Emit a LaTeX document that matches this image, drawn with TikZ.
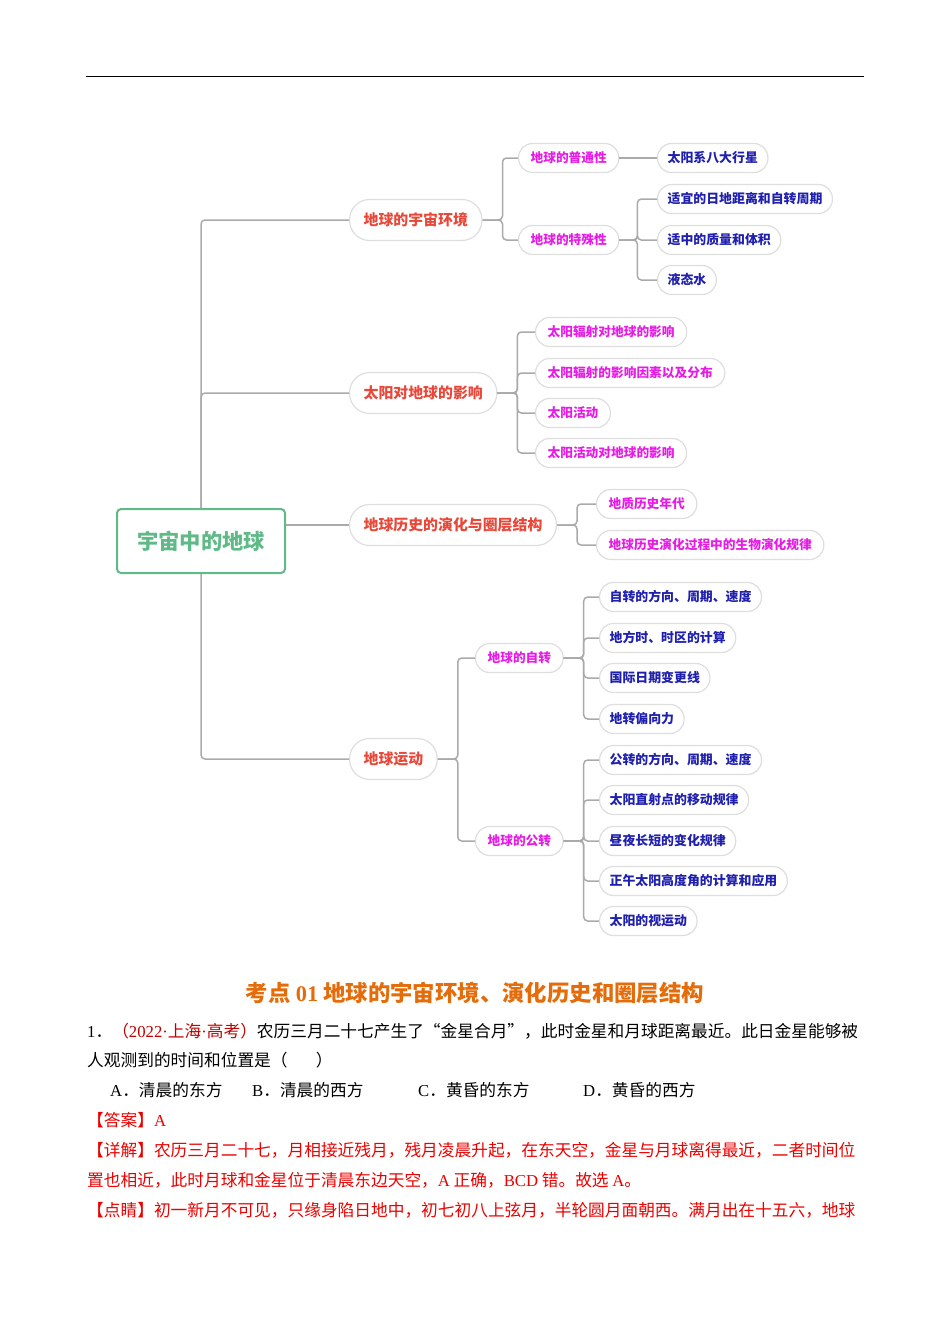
\documentclass[tikz,border=0pt]{standalone}
\usepackage{fontspec}
\setmainfont{Liberation Serif}
\newfontfamily\cjk{Noto Sans CJK SC}
\usepackage{xcolor}
\usetikzlibrary{positioning}

\definecolor{rootgreen}{RGB}{96,186,136}
\definecolor{topicred}{RGB}{232,72,58}
\definecolor{subpink}{RGB}{230,28,230}
\definecolor{leafblue}{RGB}{32,32,175}
\definecolor{linegray}{RGB}{170,170,170}
\definecolor{pillgray}{RGB}{222,222,222}
\definecolor{titleorange}{RGB}{228,108,10}
\definecolor{srcred}{RGB}{192,0,0}
\definecolor{ansred}{RGB}{235,0,0}

\begin{document}
\begin{tikzpicture}[
    x=1pt, y=-1pt,
    conn/.style={linegray, line width=1.5pt, rounded corners=4pt},
    pill/.style={draw=pillgray, line width=1.2pt, fill=white, anchor=west, inner ysep=0pt},
    root/.style={draw=rootgreen, line width=2pt, rounded corners=4pt, text=rootgreen,
                 font=\cjk\bfseries\fontsize{21.3}{22}\selectfont,
                 minimum width=168pt, minimum height=64pt, text height=18.1pt, text depth=2.1pt},
    topic/.style={pill, text=topicred, inner xsep=14pt, minimum height=41pt, rounded corners=20pt,
                  font=\cjk\bfseries\fontsize{14.9}{15}\selectfont, text height=12.7pt, text depth=1.5pt},
    sub/.style={pill, text=subpink, inner xsep=12pt, minimum height=29pt, rounded corners=14pt,
                font=\cjk\bfseries\fontsize{12.7}{13}\selectfont, text height=10.8pt, text depth=1.3pt},
    leaf/.style={pill, text=leafblue, inner xsep=10pt, minimum height=29pt, rounded corners=14pt,
                 font=\cjk\bfseries\fontsize{12.9}{13}\selectfont, text height=11pt, text depth=1.3pt},
    txt/.style={anchor=west, inner sep=0pt, text height=14.2pt, text depth=1.7pt,
                font=\cjk\fontsize{16.7}{17}\selectfont},
  ]
  \useasboundingbox (0,0) rectangle (950,1344);

  % header rule
  \draw[line width=1pt] (86,76) -- (864,76);

  % root
  \node[root] (root) at (201,541) {宇宙中的地球};

  % 地球的宇宙环境
  \node[topic] (env) at (349,220) {地球的宇宙环境};
  \node[sub] (common) at (518,158) {地球的普通性};
  \node[sub] (special) at (518,240) {地球的特殊性};
  \node[leaf] (planets) at (657,158) {太阳系八大行星};
  \node[leaf] (distance) at (657,199) {适宜的日地距离和自转周期};
  \node[leaf] (mass) at (657,240) {适中的质量和体积};
  \node[leaf] (water) at (657,280) {液态水};

  % 太阳对地球的影响
  \node[topic] (sun) at (349,393) {太阳对地球的影响};
  \node[sub] (radeff) at (535,332) {太阳辐射对地球的影响};
  \node[sub] (radfac) at (535,373) {太阳辐射的影响因素以及分布};
  \node[sub] (activity) at (535,413) {太阳活动};
  \node[sub] (acteff) at (535,453) {太阳活动对地球的影响};

  % 地球历史的演化与圈层结构
  \node[topic] (history) at (349,525) {地球历史的演化与圈层结构};
  \node[sub] (geotime) at (596,504) {地质历史年代};
  \node[sub] (bioevo) at (596,545) {地球历史演化过程中的生物演化规律};

  % 地球运动
  \node[topic] (motion) at (349,759) {地球运动};
  \node[sub] (rotation) at (475,658) {地球的自转};
  \node[sub] (revolution) at (475,841) {地球的公转};
  \node[leaf] (rotdir) at (599,597) {自转的方向、周期、速度};
  \node[leaf] (localtime) at (599,638) {地方时、时区的计算};
  \node[leaf] (dateline) at (599,678) {国际日期变更线};
  \node[leaf] (coriolis) at (599,719) {地转偏向力};
  \node[leaf] (revdir) at (599,760) {公转的方向、周期、速度};
  \node[leaf] (subsolar) at (599,800) {太阳直射点的移动规律};
  \node[leaf] (daynight) at (599,841) {昼夜长短的变化规律};
  \node[leaf] (noonalt) at (599,881) {正午太阳高度角的计算和应用};
  \node[leaf] (sunpath) at (599,921) {太阳的视运动};

  % connectors
  \foreach \t in {env,sun}
    \draw[conn] (root.north) |- (\t.west);
  \draw[conn] (root.south) |- (motion.west);
  \draw[conn] (root.east |- history.west) -- (history.west);
  \foreach \c in {common,special}
    \draw[conn] (env.east) -- ++(20,0) |- (\c.west);
  \draw[conn] (common.east) -- (planets.west);
  \foreach \c in {distance,mass,water}
    \draw[conn] (special.east) -- ++(18,0) |- (\c.west);
  \foreach \c in {radeff,radfac,activity,acteff}
    \draw[conn] (sun.east) -- ++(20,0) |- (\c.west);
  \foreach \c in {geotime,bioevo}
    \draw[conn] (history.east) -- ++(20,0) |- (\c.west);
  \foreach \c in {rotation,revolution}
    \draw[conn] (motion.east) -- ++(20,0) |- (\c.west);
  \foreach \c in {rotdir,localtime,dateline,coriolis}
    \draw[conn] (rotation.east) -- ++(20,0) |- (\c.west);
  \foreach \c in {revdir,subsolar,daynight,noonalt,sunpath}
    \draw[conn] (revolution.east) -- ++(20,0) |- (\c.west);

  % exercise text
  \node[txt, anchor=center, text=titleorange, font=\cjk\bfseries\fontsize{22.4}{23}\selectfont,
        text height=19pt, text depth=2.2pt] (title) at (475,993)
        {考点 {\rmfamily 01} 地球的宇宙环境、演化历史和圈层结构};
  \node[txt] (q1a) at (87,1031) {{\rmfamily 1}．\textcolor{srcred}{（{\rmfamily 2022·}上海{\rmfamily ·}高考）}农历三月二十七产生了“金星合月”，此时金星和月球距离最近。此日金星能够被};
  \node[txt] (q1b) at (87,1060) {人观测到的时间和位置是（\hspace{1.7em}）};
  \node[txt] (optA) at (110,1090) {{\rmfamily A}．清晨的东方};
  \node[txt] (optB) at (252,1090) {{\rmfamily B}．清晨的西方};
  \node[txt] (optC) at (418,1090) {{\rmfamily C}．黄昏的东方};
  \node[txt] (optD) at (583,1090) {{\rmfamily D}．黄昏的西方};
  \node[txt, text=ansred] (ans) at (87,1120) {【答案】{\rmfamily A}};
  \node[txt, text=ansred] (det1) at (87,1150) {【详解】农历三月二十七，月相接近残月，残月凌晨升起，在东天空，金星与月球离得最近，二者时间位};
  \node[txt, text=ansred] (det2) at (87,1180) {置也相近，此时月球和金星位于清晨东边天空，{\rmfamily A} 正确，{\rmfamily BCD} 错。故选 {\rmfamily A}。};
  \node[txt, text=ansred] (tip) at (87,1210) {【点睛】初一新月不可见，只缘身陷日地中，初七初八上弦月，半轮圆月面朝西。满月出在十五六，地球};
\end{tikzpicture}
\end{document}
